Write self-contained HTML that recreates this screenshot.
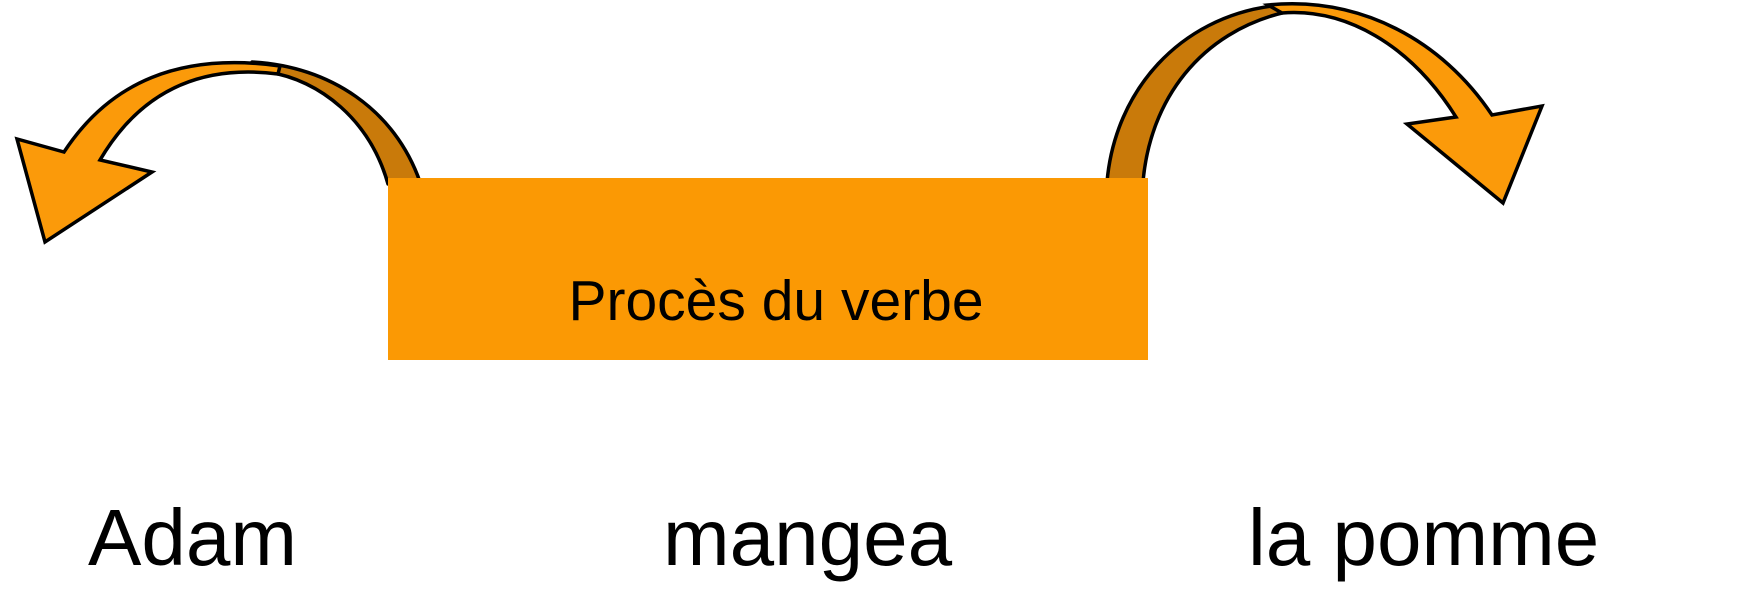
<!DOCTYPE html>
<html><head><meta charset="utf-8"><style>
html,body{margin:0;padding:0;background:#fff;width:1744px;height:608px;overflow:hidden;}
svg{display:block}
text{font-family:"Liberation Sans",Arial,sans-serif;fill:#000}
</style></head><body>
<svg width="1744" height="608" viewBox="0 0 1744 608" xmlns="http://www.w3.org/2000/svg">
<path d="M252,62 C330,66 395,110 420,182 L388,184 C370,120 320,80 268,72 Z" fill="#c97a0a" stroke="#000" stroke-width="3.5" stroke-linejoin="round"/>
<path d="M1107,182 C1115,90 1180,18 1272,6 L1286,12 C1200,32 1150,100 1143,182 Z" fill="#c97a0a" stroke="#000" stroke-width="3.5" stroke-linejoin="round"/>
<rect x="388" y="178" width="760" height="182" fill="#fb9904"/>
<text x="776" y="320" font-size="57" text-anchor="middle">Procès du verbe</text>
<path d="M64,152 C110,82 180,52 280,66 L278,74 C200,64 140,92 100,160 L152,172 L45,242 L17,139 Z" fill="#fb9a0a" stroke="#000" stroke-width="3.5"/>
<path d="M1268,5 C1360,-4 1442,40 1492,115 L1542,106 L1503,203 L1407,124 L1456,117 C1410,44 1345,8 1282,13 Z" fill="#fb9a0a" stroke="#000" stroke-width="3.5"/>
<text x="88" y="565" font-size="80">Adam</text>
<text x="663" y="565" font-size="80">mangea</text>
<text x="1248" y="565" font-size="80">la pomme</text>
</svg>
</body></html>
